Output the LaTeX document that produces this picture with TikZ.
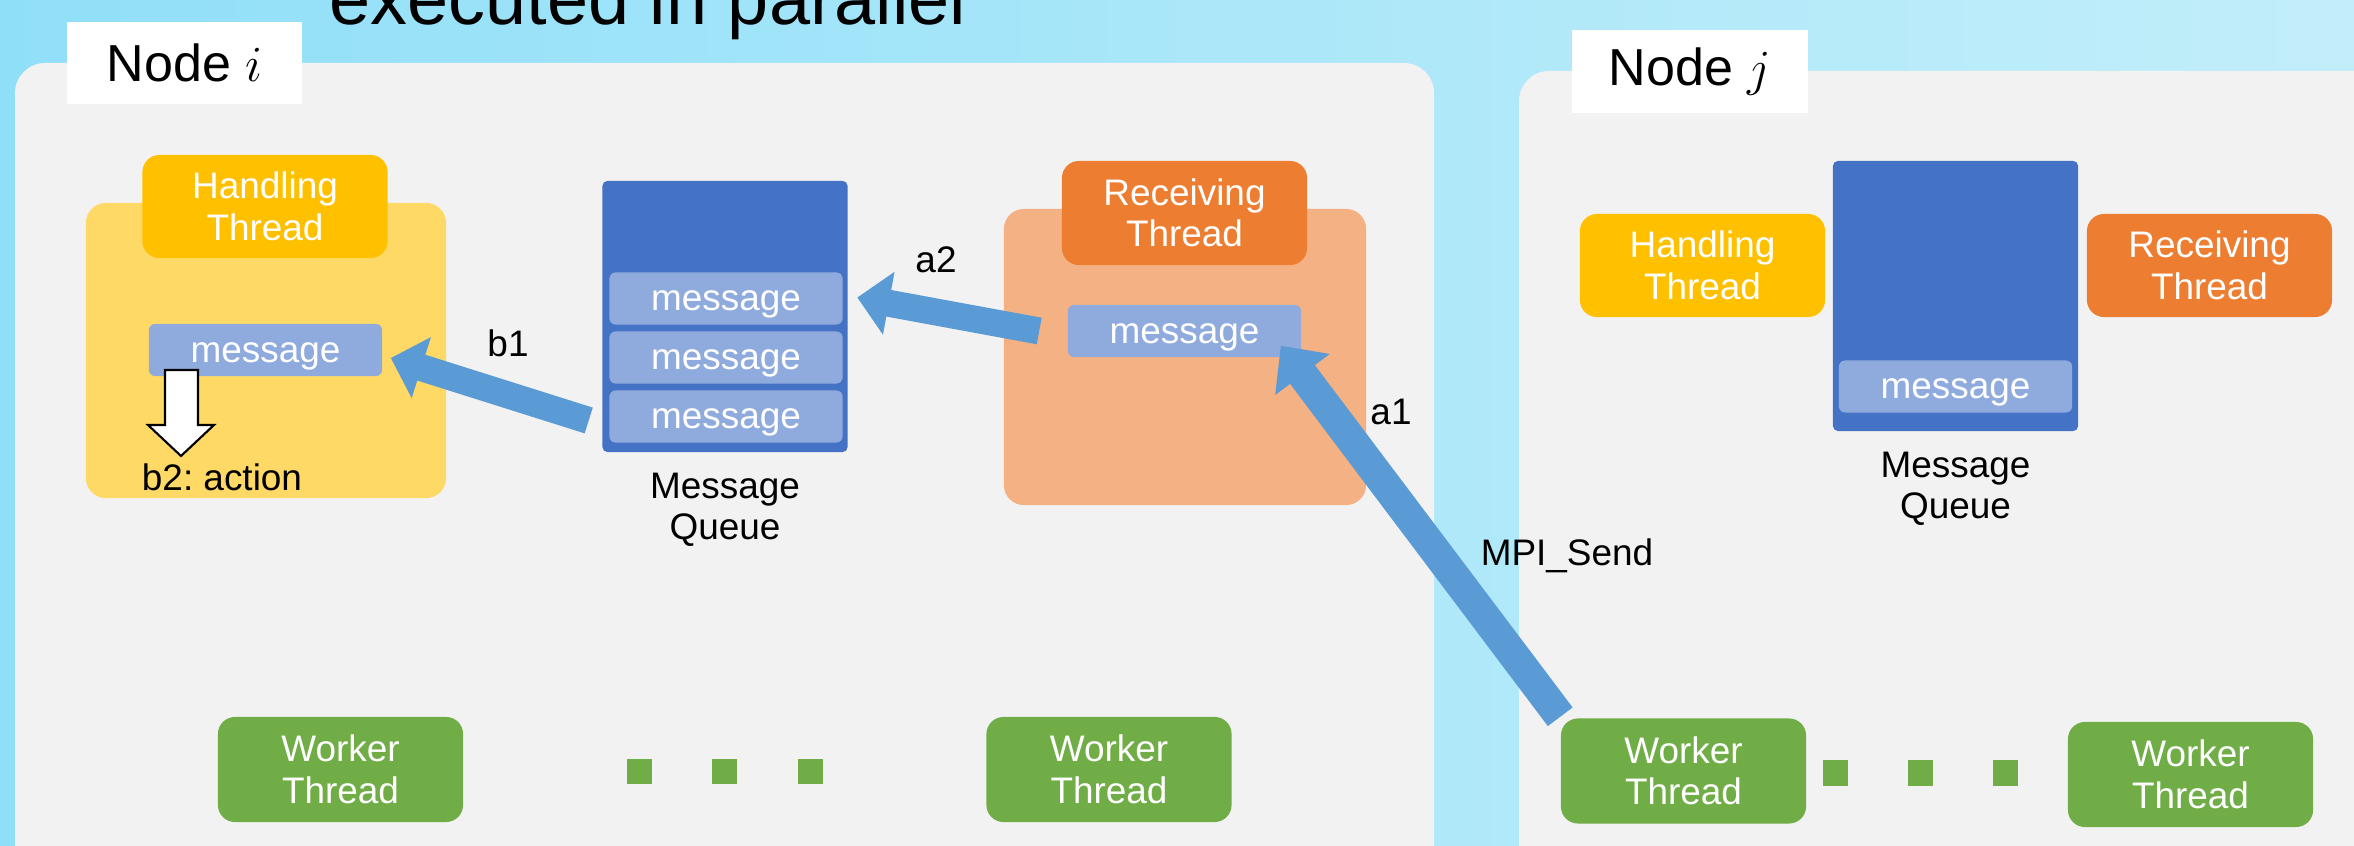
\documentclass[tikz,border=0pt]{standalone}
\usepackage{fontspec}
\setmainfont{Liberation Sans}
\usepackage{tikz}
\usetikzlibrary{arrows.meta, positioning, calc}
\frenchspacing

\definecolor{bgleft}{HTML}{90DFF8}
\definecolor{bgright}{HTML}{C2EEFA}
\definecolor{panelgray}{HTML}{F2F2F2}
\definecolor{handdark}{HTML}{FFC000}
\definecolor{handlight}{HTML}{FFD966}
\definecolor{recvdark}{HTML}{ED7D31}
\definecolor{recvlight}{HTML}{F4B183}
\definecolor{queueblue}{HTML}{4472C4}
\definecolor{msgblue}{HTML}{8FAADC}
\definecolor{flowblue}{HTML}{5B9BD5}
\definecolor{workgreen}{HTML}{70AD47}

\begin{document}
\begin{tikzpicture}[
    x=0.01cm, y=-0.01cm,
    txt/.style={font=\fontsize{10.5}{11.8}\selectfont},
    thread/.style={txt, rounded corners=0.17cm, minimum width=2.45cm, minimum height=1.03cm, align=center, text=white, inner sep=0pt},
    pad/.style={rounded corners=0.2cm, inner sep=0pt},
    msg/.style={txt, rounded corners=0.06cm, fill=msgblue, text=white, minimum width=2.33cm, minimum height=0.52cm, inner sep=0pt, text height=7.1pt, text depth=0pt},
    queue/.style={rounded corners=0.05cm, fill=queueblue, minimum width=2.45cm, inner sep=0pt},
    worker/.style={thread, fill=workgreen, minimum height=1.05cm},
    tag/.style={fill=white, minimum width=2.35cm, minimum height=0.82cm, font=\fontsize{14.8}{16}\selectfont},
    lbl/.style={txt, inner sep=0pt, align=center},
    flow/.style={draw=flowblue, line width=0.27cm, -{Triangle[length=0.32cm, width=0.62cm]}}
]
\useasboundingbox (0,0) rectangle (2354,846);
\clip (0,0) rectangle (2354,846);
\shade[left color=bgleft, right color=bgright] (0,0) rectangle (2354,846);

% slide title, cut at the top
\node (title) [anchor=base, font=\fontsize{21}{24}\selectfont, inner sep=0pt] at (648,25) {executed in parallel};

% the two nodes
\fill[panelgray, rounded corners=0.3cm] (15,63) rectangle (1434,960);
\fill[panelgray, rounded corners=0.3cm] (1519,71) rectangle (2450,960);
\node (tagi) [tag] at (184.5,63) {Node $i$};
\node (tagj) [tag] at (1690,71.5) {Node $j$};

% node i: handling side
\node (hpad) [pad, fill=handlight, minimum width=3.6cm, minimum height=2.95cm] at (266,350.5) {};
\node (hthr) [thread, fill=handdark] at (265,206.5) {Handling\\Thread};
\node (hmsg) [msg] at (265.5,350) {message};
\node (act) [lbl, anchor=base] at (222,491) {b2: action};
\draw[fill=white, line width=0.6pt] (165,370) -- (198,370) -- (198,425) -- (214,425) -- (181,456) -- (148,425) -- (165,425) -- cycle;

% node i: queue
\node (q1) [queue, minimum height=2.71cm] at (725,316.5) {};
\node (q1m1) [msg] at (726,298.5) {message};
\node (q1m2) [msg] at (726,357.5) {message};
\node (q1m3) [msg] at (726,416.5) {message};
\node (q1lbl) [lbl, anchor=north, below=0.195cm of q1] {Message\\Queue};

% node i: receiving side
\node (rpad) [pad, fill=recvlight, minimum width=3.62cm, minimum height=2.96cm] at (1185,357) {};
\node (rthr) [thread, fill=recvdark, minimum height=1.04cm] at (1184.5,213) {Receiving\\Thread};
\node (rmsg) [msg] at (1184.5,331) {message};

% node j
\node (hthr2) [thread, fill=handdark] at (1702.5,265.5) {Handling\\Thread};
\node (q2) [queue, minimum height=2.70cm] at (1955.5,296) {};
\node (q2m) [msg] at (1955.5,386.5) {message};
\node (rthr2) [thread, fill=recvdark] at (2209.5,265.5) {Receiving\\Thread};
\node (q2lbl) [lbl, anchor=north, below=0.195cm of q2] {Message\\Queue};

% workers
\node (w1) [worker] at (340.5,769.5) {Worker\\Thread};
\node (w2) [worker] at (1109,769.5) {Worker\\Thread};
\node (w3) [worker] at (1683.5,771) {Worker\\Thread};
\node (w4) [worker] at (2190.5,774.5) {Worker\\Thread};
\foreach \x in {639.5,724.5,810} \fill[workgreen] (\x-12.5,759) rectangle (\x+12.5,784);
\foreach \x in {1835.5,1920.5,2005} \fill[workgreen] (\x-12.5,760) rectangle (\x+12.5,786);

% message flow
\draw[flow] ($(q1m3.west)+(-20,4)$) -- ($(hmsg.east)+(8,8)$);
\draw[flow] ($(rmsg.west)+(-28,0)$) -- ($(q1m1.east)+(14,-1)$);
\draw[flow, line width=0.31cm, -{Triangle[length=0.36cm, width=0.66cm]}] ($(w3.north west)+(0,-1)$) -- ($(rmsg.south east)+(-21,-12)$);

\node (b1) [lbl, anchor=base] at (508,357) {b1};
\node (a2) [lbl, anchor=base] at (936,273) {a2};
\node (a1) [lbl, anchor=base] at (1391,425) {a1};
\node (send) [lbl, anchor=base] at (1567,565) {MPI\_Send};
\end{tikzpicture}
\end{document}
